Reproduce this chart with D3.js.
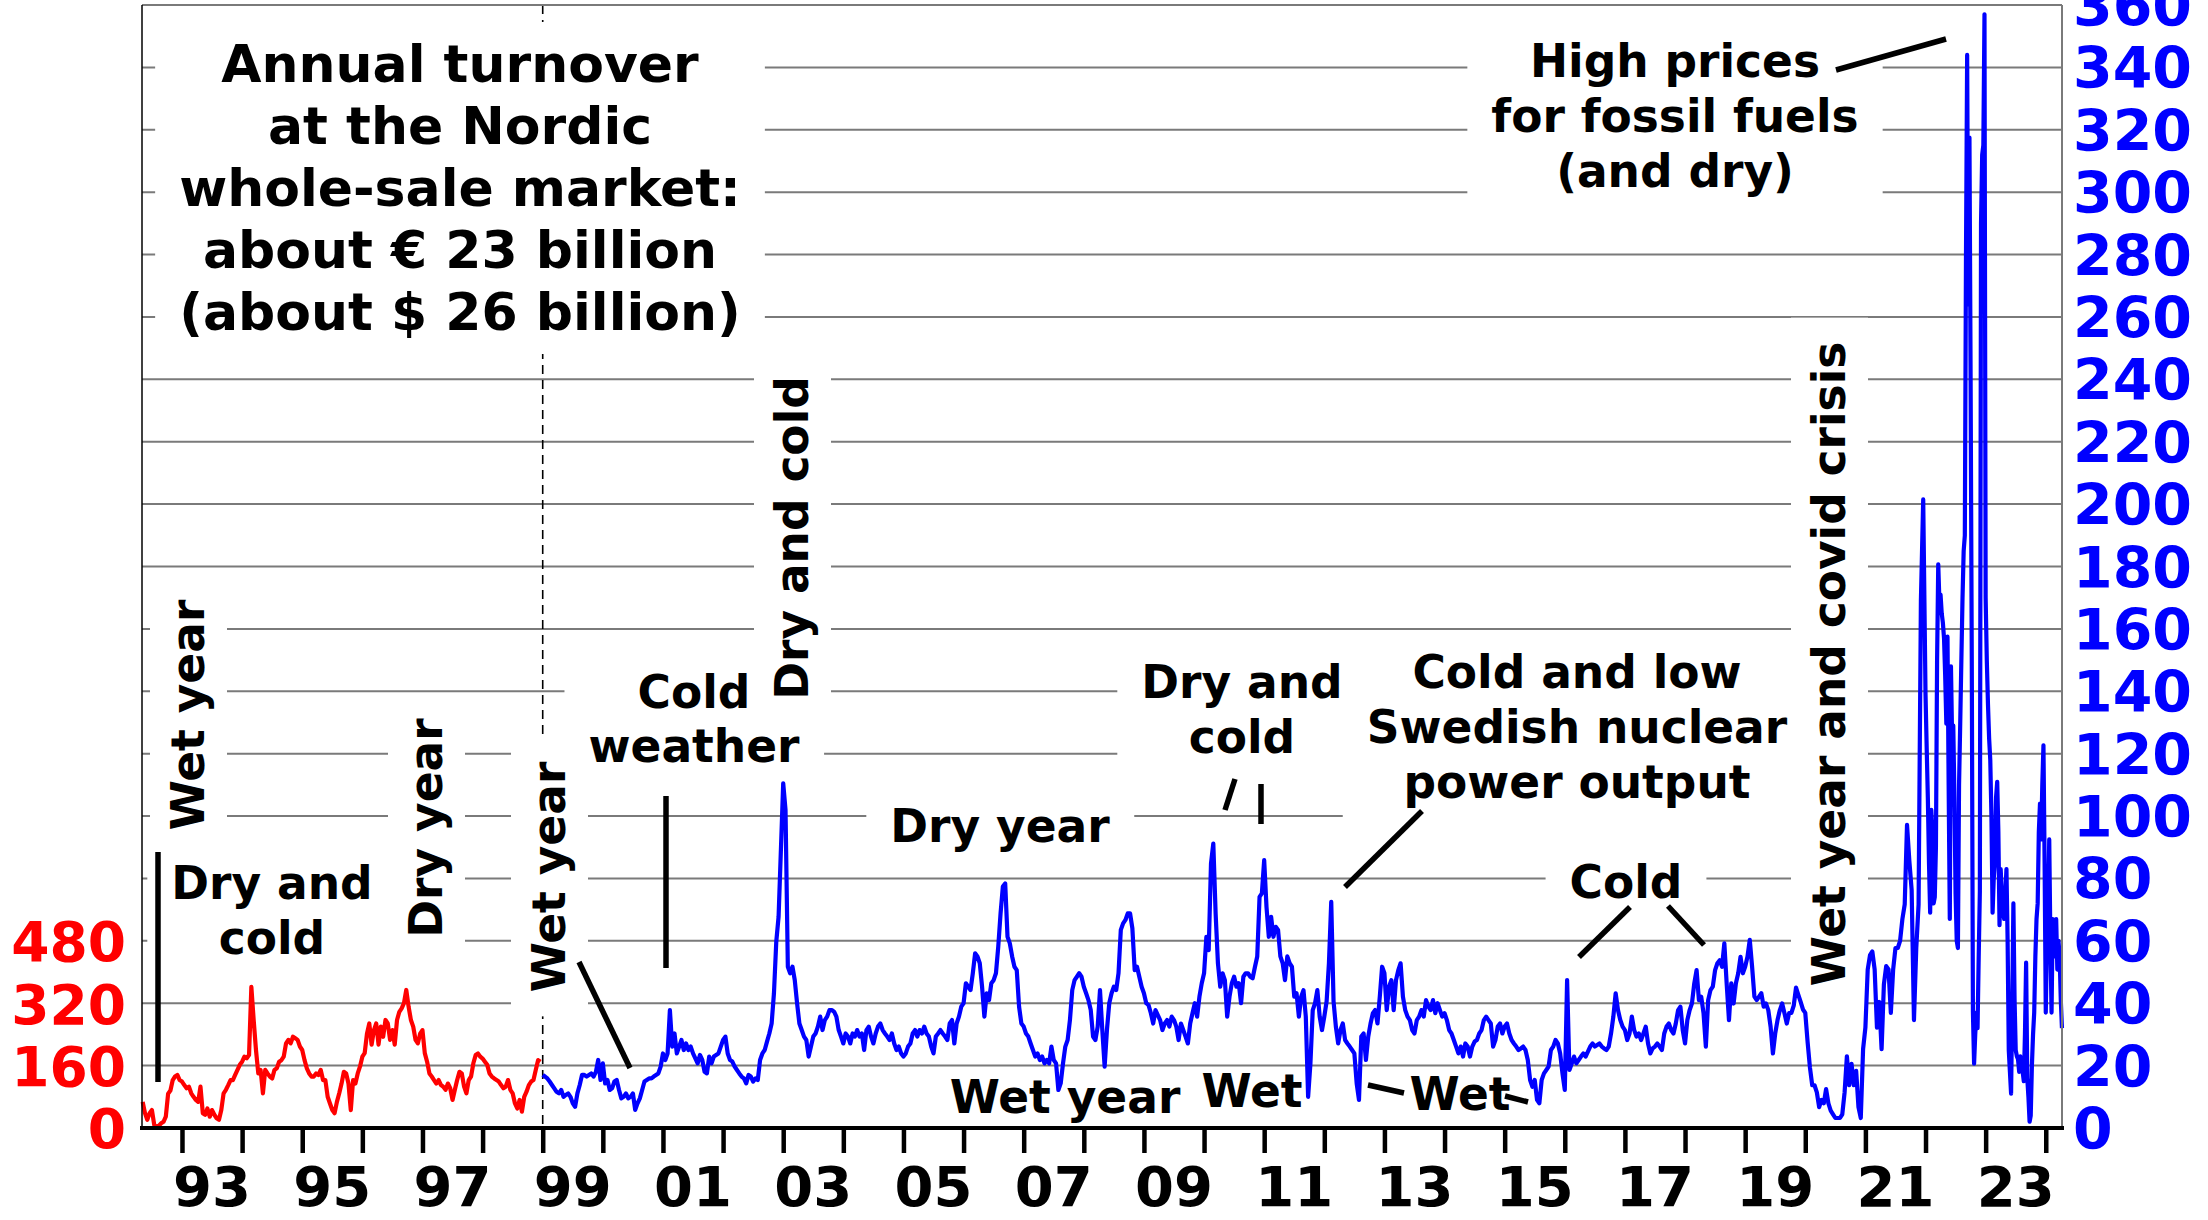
<!DOCTYPE html>
<html><head><meta charset="utf-8">
<script src="https://cdn.jsdelivr.net/npm/d3@7/dist/d3.min.js"></script>
<style>
html,body{margin:0;padding:0;background:#fff;}
svg{display:block;font-family:"DejaVu Sans",Verdana,sans-serif;font-weight:bold;}
</style></head><body>
<svg id="chart" width="2208" height="1220"></svg>
<script>
// ---- Data. Red: NOK/MWh (left axis), Blue: EUR/MWh (right axis).
// Biweekly values (26 per year) unless noted weekly (52 per year).
const nok1992 = [67,38,21,38,46,8,4,6,12,16,29,88,96,123,132,136,123]; // from index 9 (May)
const nok1993 = [119,110,102,106,89,80,72,67,106,38,34,50,29,46,34,25,21,46,89,98,110,123,123,136,149,162];
const nok1994 = [170,183,179,187,362,277,200,140,149,89,149,140,132,127,149,153,170,174,183,217,226,217,234,230,226,209];
const nok1995 = [200,174,153,140,132,132,140,136,149,123,123,80,63,46,38,67,89,114,144,140,114,46,123,114,140,158];
const nok1996 = [183,192,242,268,214,251,268,214,260,234,277,268,226,251,214,277,298,307,320,354,311,277,260,226,217,242];
const nok1997 = [251,192,170,140,132,123,114,123,110,106,98,114,102,72,98,123,144,140,106,89,123,132,166,187,191,183];
const nok1998 = [178,170,162,140,132,127,123,119,110,102,106,123,98,89,63,50,72,42,80,93,110,119,123,149,174,170];

const eur1999 = [17,16.5,15.9,14.9,13.8,12.7,11.6,11.1,12.2,10,10.6,11.1,10,7.9,6.8,11.1,13.8,17,17,16.5,17,17.5,16.5,18,21.8,15.4];
const eur2000 = [20.7,14.3,15.4,12.2,12.7,14.9,15.4,12.2,9.5,10,11.1,9.5,10,11.1,5.8,7.9,9.5,12.2,14.9,15.4,15.9,15.9,16.5,17,17.5,19.7];
const eur2001 = [23.9,21.8,23.9,37.8,26.1,30.3,23.9,26.1,28.2,25,27.1,25,26.1,23.9,22.3,20.7,23.4,21.8,18,17.5,22.9,20.7,22.9,23.4,23.9,26.1];
const eur2002 = [28.2,29.3,23.9,21.8,21.3,19.7,18.6,17.5,16.5,15.9,14.3,17,16.5,14.9,15.9,15.4,21.8,23.9,25,27.7,30.3,33.5,43.2,59.7,67.7,89.1];
const eur2003 = [110.5,102,51.7,49.6,51.7,47.4,40,33.5,31.4,29.3,28.2,22.9,26.1,29.3,30.3,32.5,35.7,31.4,34.6,35.7,37.8,37.8,37.3,35.7,31.4,29.3];
const eur2004 = [27.1,30.3,29.3,27.1,30.3,29.3,31.4,29.3,30.3,25,31.4,32.5,29.3,27.1,30.3,32.5,33.5,31.4,30.3,29.3,28.2,30.3,27.1,25,26.1,23.9];
const eur2005 = [22.9,23.9,26.1,27.1,30.3,31.4,29.3,31.4,30.3,32.5,30.3,29.3,26.1,23.9,29.3,30.3,31.4,30.3,29.3,28.2,33.5,34.6,27.1,33.5,35.7,38.9];
const eur2006 = [40,46.4,45.3,44.2,49.6,56,55,52.8,45.3,35.7,43.2,41,46.4,47.4,49.6,58.1,68.8,77.4,78.4,61.3,59.2,55,51.7,50.6,38.9,33.5];
const eur2007 = [32.5,30.3,29.3,27.1,25,22.9,23.9,21.8,22.9,20.7,21.8,20.7,26.1,21.8,20.7,12.2,14.3,20.7,26.1,28.2,34.6,44.2,47.4,48.5,49.6,48.5];
const eur2008 = [45.3,43.2,41,37.8,29.3,28.2,32.5,44.2,31.4,19.7,31.4,40,43.2,45.3,44.2,49.6,63.5,65.6,66.7,68.8,68.8,64,50.6,51.7,48.5,45.3];
const eur2009 = [43.2,40,39.4,36.8,33.5,37.8,36.2,34.6,31.4,33.5,34.6,32.5,35.7,34.6,32.5,28.2,33.5,31.4,29.3,27.1,33.5,36.8,40,35.7,42.1,46.4];
const eur2010 = [49.6,61.3,57,84.8,91.2,68.8,52.8,45.3,49.6,47.4,35.7,42.1,46.4,48.5,45.3,46.4,40,48.5,49.6,49.6,48.5,48,51.6,55,74.1,75.2];
const eur2011 = [85.9,70.9,61.3,67.7,61.3,64.5,63.5,55,52.8,47.4,55,52.8,51.7,42.1,43.2,35.7,42.1,44.2,35.7,10,20.7,37.8,40,44.2,35.7,31.4];
const eur2012 = [35.7,40.6,52.8,72.5,40.6,32.5,27.1,31.4,33.5,28.2,27.1,26.1,25,23.9,14.3,9,29.3,30.3,21.8,29.3,33.5,36.8,37.8,33.5,42.1,51.7];
const eur2013 = [49.6,37.8,45.3,47.4,37.8,47.4,50.6,52.8,42.1,37.8,35.7,34.6,31.4,30.3,34.6,35.7,37.8,35.7,41,38.9,37.8,41,36.8,40,37.8,35.7];
const eur2014 = [36.8,34.6,31.4,30.3,28.2,26.1,23.9,26.1,22.9,27.1,26.1,22.9,26.1,27.7,28.2,30.3,31.4,34.6,35.7,34.6,33.5,26.1,28.2,32.5,33.5,30.3];
const eur2015 = [32.5,33.5,30.3,28.2,27.1,26.1,25,25.5,26.1,25,21.8,15.4,13.2,15.4,9,7.9,15.4,17.5,18.6,19.7,25,26.1,28.2,27.1,23.9,17.5];
const eur2016 = [12.2,47.4,18.6,20.7,22.9,20.7,21.8,22.9,23.9,22.9,24.5,26.1,27.1,26.1,26.6,27.1,26.1,25.5,25,26.1,30.3,35.7,43.2,37.8,34.6,32.5];
const eur2017 = [31.4,28.2,30.3,35.7,31.4,29.3,30.3,28.2,30.3,32.5,27.1,23.9,25.5,26.1,27.1,26.1,25,30.3,32.5,33.5,31.4,30.3,33.5,37.8,38.9,31.4];
const eur2018 = [27.1,34.6,37.8,40,46.4,50.6,41,42.1,36.8,26.1,41,44.2,45.3,50.6,52.8,53.8,51.7,59.2,46.4,34.6,46.4,39.9,46.4,49.6,54.9,49.6];
const eur2019 = [51.7,54.9,60.3,51.7,42.1,41,42.1,43.2,38.9,39.9,37.8,32.5,23.9,30.3,34.6,37.8,39.9,36.8,33.5,36.8,36.9,39.2,45,42.7,40.4,38];
const eur2020 = [36.9,27.6,19.5,13.7,13.7,11.4,6.7,9,7.9,12.5,7.9,5.6,4.4,3.2,3.2,3.2,4.4,11.4,23,13.7,20.6,13.7,18.3,6.7,3.2,25.3];
const eur2021 = [32.2,50.8,55.4,56.6,50.8,32.2,40.4,25.3,46.1,51.9,50.8,36.9,50.8,57.7,57.7,60,67,71.7,97.2,85.6,76.3,34.6,57.7,71.7,169,201.5];
// weekly from 2022
const eur2022 = [139,122,106,85,69,102,95,72,74,90,150,180.7,169,171,165,162,157,145,129.6,157.5,110,67,148,125,129,106,
                 75,60,57.7,110,129.6,150,170,185,190,280,344,264,317.5,240,150,37,20.6,30,37,32,55,76,290,312,315,357];
const eur2023 = [170,150,136,125,118,100,69,80,85,106,111,95,65,83,75,70,67,75,83,60,25,18,11,40,72,41.5,
                 25,23,22,18,23,20,18,15,30,53,16,10,2,4,20,30,37,55,67,72,95,104,92.5,110,122.7,85];
const eur2024 = [37,60,69,92.5,60,37,67,55,60,67,50.8,60,55,41,32];

const redYears  = [[1992,9,26,nok1992],[1993,0,26,nok1993],[1994,0,26,nok1994],[1995,0,26,nok1995],[1996,0,26,nok1996],[1997,0,26,nok1997],[1998,0,26,nok1998]];
const blueYears = [[1999,0,26,eur1999],[2000,0,26,eur2000],[2001,0,26,eur2001],[2002,0,26,eur2002],[2003,0,26,eur2003],[2004,0,26,eur2004],[2005,0,26,eur2005],[2006,0,26,eur2006],[2007,0,26,eur2007],[2008,0,26,eur2008],[2009,0,26,eur2009],[2010,0,26,eur2010],[2011,0,26,eur2011],[2012,0,26,eur2012],[2013,0,26,eur2013],[2014,0,26,eur2014],[2015,0,26,eur2015],[2016,0,26,eur2016],[2017,0,26,eur2017],[2018,0,26,eur2018],[2019,0,26,eur2019],[2020,0,26,eur2020],[2021,0,26,eur2021],[2022,0,52,eur2022],[2023,0,52,eur2023],[2024,0,52,eur2024]];

const yearTicks = d3.range(1993, 2025);
const yearLabels = ["93","95","97","99","01","03","05","07","09","11","13","15","17","19","21","23"];
const rightTicks = d3.range(0, 361, 20);
const leftTicks = [0,160,320,480];

function flatten(list){
  const out=[];
  list.forEach(([yr,start,n,vals])=>vals.forEach((v,i)=>out.push({t:yr+(start+i)/n, v})));
  return out;
}
const redData = flatten(redYears), blueData = flatten(blueYears);

// ---- Layout
const W=2208,H=1220, L=142, R=2062, T=5, B=1128;
const svg=d3.select("#chart");
svg.append("rect").attr("width",W).attr("height",H).attr("fill","#fff");
const x=d3.scaleLinear().domain([1992.335,2024.27]).range([L,R]);
const yR=d3.scaleLinear().domain([0,360]).range([B,T]);
const yL=d3.scaleLinear().domain([0,2880]).range([B,T]);

const gGrid=svg.append("g"), gBg=svg.append("g"), gData=svg.append("g"), gText=svg.append("g"), gLead=svg.append("g"), gAxis=svg.append("g");

// gridlines
gGrid.selectAll("line").data(rightTicks.filter(d=>d>0)).join("line")
  .attr("x1",L).attr("x2",R).attr("y1",d=>yR(d)).attr("y2",d=>yR(d))
  .attr("stroke","#7a7a7a").attr("stroke-width",2);
// dashed separator 1999
gGrid.append("line").attr("x1",x(1999)).attr("x2",x(1999)).attr("y1",T).attr("y2",B)
  .attr("stroke","#000").attr("stroke-width",1.6).attr("stroke-dasharray","9,6");

// annotations
function note(lines,px,py,opt={}){
  const size=opt.size||45.5, lh=opt.lh||55, rot=opt.rot||0;
  const tr=`translate(${px},${py}) rotate(${rot})`;
  const t=gText.append("text").attr("transform",tr).attr("text-anchor","middle")
    .attr("font-size",size).attr("fill","#000");
  lines.forEach((s,i)=>t.append("tspan").attr("x",0).attr("y",i*lh).text(s));
  if(!opt.noBg){
    const b=t.node().getBBox(), pa=opt.padA??24, pc=opt.padC??12;
    gBg.append("rect").attr("transform",tr).attr("x",b.x-pa).attr("y",b.y-pc)
      .attr("width",b.width+2*pa).attr("height",b.height+2*pc).attr("fill","#fff");
  }
}
note(["Annual turnover","at the Nordic","whole-sale market:","about € 23 billion","(about $ 26 billion)"],460,82,{size:52,lh:62});
note(["Wet year"],204,715,{rot:-90});
note(["Dry and","cold"],272,899);
note(["Dry year"],442,828,{rot:-90});
note(["Wet year"],565,877,{rot:-90});
note(["Cold","weather"],694,708,{lh:54});
note(["Dry and cold"],808,538,{rot:-90});
note(["Dry year"],1000,842);
note(["Wet year"],1065,1113,{noBg:true});
note(["Dry and","cold"],1242,698);
note(["Wet"],1252,1107,{noBg:true});
note(["Cold and low","Swedish nuclear","power output"],1577,688);
note(["Wet"],1460,1110,{noBg:true});
note(["Cold"],1626,898);
note(["Wet year and covid crisis"],1845,664,{rot:-90});
note(["High prices","for fossil fuels","(and dry)"],1675,77);

// leader lines
const leaders=[[158,852,158,1082],[579,962,630,1068],[666,796,666,968],[1235,779,1225,810],[1261,784,1261,824],
  [1422,811,1345,887],[1368,1085,1404,1093],[1505,1096,1528,1102],[1630,907,1579,957],[1668,906,1704,945],[1836,70,1946,39]];
gLead.selectAll("line").data(leaders).join("line")
  .attr("x1",d=>d[0]).attr("y1",d=>d[1]).attr("x2",d=>d[2]).attr("y2",d=>d[3])
  .attr("stroke","#000").attr("stroke-width",5.5);

// data lines
gData.append("path").datum(redData).attr("fill","none").attr("stroke","#ff0000").attr("stroke-width",4.2)
  .attr("stroke-linejoin","round").attr("d",d3.line().x(d=>x(d.t)).y(d=>yL(d.v)));
gData.append("path").datum(blueData).attr("fill","none").attr("stroke","#0000ff").attr("stroke-width",4.2)
  .attr("stroke-linejoin","round").attr("d",d3.line().x(d=>x(d.t)).y(d=>yR(d.v)));

// frame
gAxis.append("line").attr("x1",L).attr("x2",R).attr("y1",T).attr("y2",T).attr("stroke","#7a7a7a").attr("stroke-width",2);
gAxis.append("line").attr("x1",R).attr("x2",R).attr("y1",T).attr("y2",B).attr("stroke","#7a7a7a").attr("stroke-width",2);
gAxis.append("line").attr("x1",L).attr("x2",L).attr("y1",T).attr("y2",B).attr("stroke","#000").attr("stroke-width",1.5);

// bottom axis (ticks at year starts)
const xAxis=d3.axisBottom(x).tickValues(yearTicks).tickSize(25).tickFormat("");
const gx=gAxis.append("g").attr("transform",`translate(0,${B})`).call(xAxis);
gx.select(".domain").remove();
gx.selectAll(".tick line").attr("stroke","#000").attr("stroke-width",4.5);
gAxis.append("line").attr("x1",L-2).attr("x2",R+2).attr("y1",B).attr("y2",B).attr("stroke","#000").attr("stroke-width",4);
gAxis.append("g").selectAll("text").data(yearLabels).join("text")
  .attr("x",(d,i)=>x(1993+2*i+0.5)).attr("y",1206).attr("text-anchor","middle")
  .attr("font-size",56).attr("fill","#000").text(d=>d);

// right axis (blue)
const gr=gAxis.append("g").attr("transform",`translate(${R},0)`)
  .call(d3.axisRight(yR).tickValues(rightTicks).tickSize(0).tickPadding(11));
gr.select(".domain").remove();
gr.selectAll("text").attr("font-size",57).attr("fill","#0000ff").attr("font-family","DejaVu Sans").attr("font-weight","bold").attr("dy","0.36em");

// left axis (red)
const gl=gAxis.append("g").attr("transform",`translate(${L},0)`)
  .call(d3.axisLeft(yL).tickValues(leftTicks).tickSize(0).tickPadding(16));
gl.select(".domain").remove();
gl.selectAll("text").attr("font-size",55).attr("fill","#ff0000").attr("font-family","DejaVu Sans").attr("font-weight","bold").attr("dy","0.36em");
</script></body></html>
